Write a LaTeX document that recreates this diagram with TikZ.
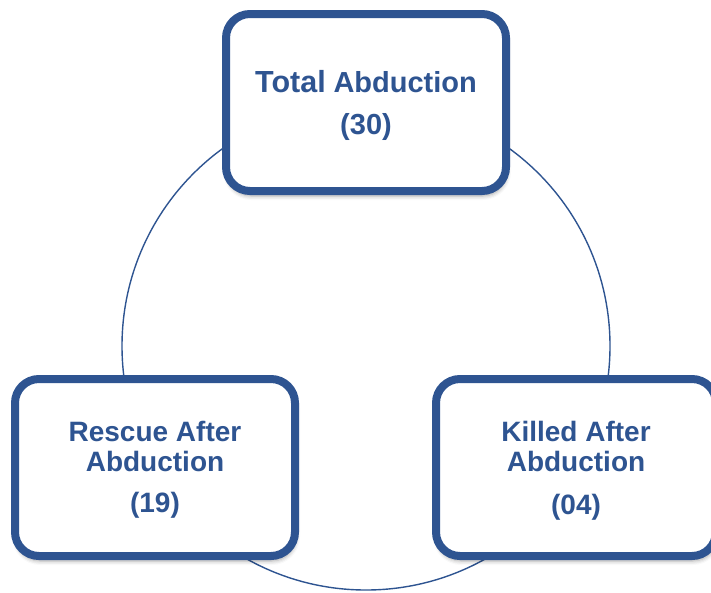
\documentclass[tikz,border=0pt]{standalone}
\usepackage{fontspec}
\setmainfont{Liberation Sans}
\usetikzlibrary{shadows.blur}
\definecolor{dblue}{RGB}{46,84,145}
\tikzset{
  box/.style={draw=dblue, line width=8pt, rounded corners=24pt, fill=white,
    minimum width=280pt, minimum height=177pt, inner sep=0pt,
    blur shadow={shadow xshift=1pt, shadow yshift=-5pt, shadow blur radius=4pt, shadow opacity=35}},
  boxtext/.style={align=center, inner sep=0pt, text=dblue,
    font=\bfseries\fontsize{28}{29.5}\selectfont},
  ring/.style={draw=dblue, line width=1.4pt}
}
\begin{document}
\begin{tikzpicture}[x=1pt,y=-1pt]
\useasboundingbox (0,0) rectangle (711,592);
\coordinate (c) at (366,346);
\draw[ring] (c) circle[radius=244];
\node[box] (total) at (366,102.5) {};
\node[box] (rescue) at (155,467.5) {};
\node[box] (killed) at (576,467.5) {};
\node[boxtext] (totaltxt) at ([yshift=-3pt]total.center) {{\fontsize{30.5}{30}\selectfont Total} {\fontsize{29}{30}\selectfont Abduction}\\[12pt]{\fontsize{29}{30}\selectfont (30)}};
\node[boxtext] (rescuetxt) at ([yshift=-2.5pt]rescue.center) {Rescue After\\Abduction\\[12pt](19)};
\node[boxtext] (killedtxt) at ([yshift=-3.5pt]killed.center) {Killed After\\Abduction\\[14pt](04)};
\end{tikzpicture}
\end{document}
